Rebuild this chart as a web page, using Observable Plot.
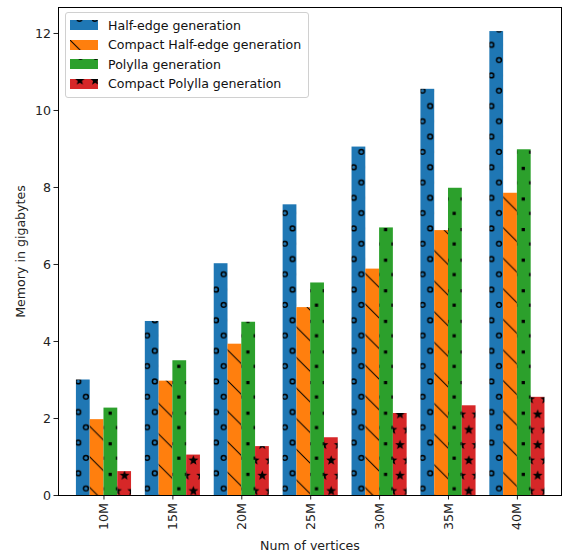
<!DOCTYPE html>
<html>
<head>
<meta charset="utf-8">
<script src="https://cdn.jsdelivr.net/npm/d3@7"></script>
<script src="https://cdn.jsdelivr.net/npm/@observablehq/plot@0.6"></script>
<style>
  body { margin: 0; background: #fff; font-family: "DejaVu Sans", sans-serif; }
  #wrap { position: relative; width: 565px; height: 555px; }
  #legend { position: absolute; left: 65px; top: 12px; width: 242px; height: 84px;
    border: 1px solid #d0d0d0; border-radius: 3px; background: rgba(255,255,255,0.85);
    font-size: 12.6px; color: #111; }
  .row { position: absolute; left: 4px; height: 14px; display: flex; align-items: center; }
  .row svg { margin-right: 10px; }
</style>
</head>
<body>
<svg width="0" height="0" style="position:absolute">
  <defs id="defs"></defs>
</svg>
<div id="wrap"><div id="chart"></div><div id="legend"></div></div>
<script>
const categories = ["10M", "15M", "20M", "25M", "30M", "35M", "40M"];
const seriesNames = ["Half-edge generation", "Compact Half-edge generation", "Polylla generation", "Compact Polylla generation"];
const halfEdge = [3.0, 4.52, 6.02, 7.55, 9.05, 10.55, 12.05];
const compactHalfEdge = [1.97, 2.97, 3.93, 4.88, 5.88, 6.88, 7.85];
const polylla = [2.27, 3.5, 4.5, 5.52, 6.95, 7.98, 8.98];
const compactPolylla = [0.62, 1.05, 1.27, 1.5, 2.13, 2.33, 2.55];
const yTicks = [0, 2, 4, 6, 8, 10, 12];

const colors = ["#1f77b4", "#ff7f0e", "#2ca02c", "#d62728"];
const allSeries = [halfEdge, compactHalfEdge, polylla, compactPolylla];

// ---- hatch patterns (styling) ----
const P = 15.3, P2 = 30.6;
function star(cx, cy, R, r) {
  let s = "";
  for (let i = 0; i < 10; i++) {
    const a = -Math.PI / 2 + i * Math.PI / 5;
    const rr = i % 2 ? r : R;
    s += (i ? "L" : "M") + (cx + rr * Math.cos(a)).toFixed(2) + "," + (cy + rr * Math.sin(a)).toFixed(2);
  }
  return s + "Z";
}
function copies(pts, w, h) {
  const out = [];
  for (const [x, y] of pts) for (const dx of [-w, 0, w]) for (const dy of [-h, 0, h]) out.push([x + dx, y + dy]);
  return out;
}
let defs = "";
// circles
defs += `<pattern id="p0" patternUnits="userSpaceOnUse" width="${P}" height="${P2}"><rect width="${P}" height="${P2}" fill="${colors[0]}"/>`;
for (const [x, y] of copies([[1.8, 14.2], [9.45, 29.5]], P, P2)) defs += `<circle cx="${x}" cy="${y}" r="2.4" fill="none" stroke="#000" stroke-width="1.5"/>`;
defs += `</pattern>`;
// backward diagonal
defs += `<pattern id="p1" patternUnits="userSpaceOnUse" width="${P2}" height="${P2}"><rect width="${P2}" height="${P2}" fill="${colors[1]}"/>`;
defs += `<path d="M-2,-2L${P2 + 2},${P2 + 2}M-2,${P2 - 2}L2,${P2 + 2}M${P2 - 2},-2L${P2 + 2},2" stroke="#000" stroke-width="1" fill="none"/>`;
defs += `</pattern>`;
// dots
defs += `<pattern id="p2" patternUnits="userSpaceOnUse" width="${P}" height="${P2}"><rect width="${P}" height="${P2}" fill="${colors[2]}"/>`;
for (const [x, y] of copies([[3.1, 15.4], [10.5, 29.8]], P, P2)) defs += `<rect x="${x - 1.6}" y="${y - 1.6}" width="3.2" height="3.2" fill="#000"/>`;
defs += `</pattern>`;
// stars
defs += `<pattern id="p3" patternUnits="userSpaceOnUse" width="${P}" height="${P2}"><rect width="${P}" height="${P2}" fill="${colors[3]}"/>`;
for (const [x, y] of copies([[2.2, 16.5], [9.85, 1.4]], P, P2)) defs += `<path d="${star(x, y, 5.2, 2.2)}" fill="#000"/>`;
defs += `</pattern>`;
document.getElementById("defs").innerHTML = defs;

// ---- data table ----
const rows = [];
allSeries.forEach((vals, k) => vals.forEach((v, i) => rows.push({i, k, v})));
const bw = 0.2;

const marks = allSeries.map((vals, k) =>
  Plot.rectY(rows.filter(d => d.k === k), {
    x1: d => d.i + (d.k - 2) * bw,
    x2: d => d.i + (d.k - 1) * bw,
    y1: 0,
    y2: "v",
    fill: `url(#p${k})`
  })
);

const chart = Plot.plot({
  width: 565,
  height: 555,
  marginLeft: 58,
  marginRight: 4,
  marginTop: 7,
  marginBottom: 60,
  style: {fontFamily: "DejaVu Sans, sans-serif", fontSize: "12.6px", color: "#222", background: "#fff"},
  x: {
    domain: [-0.66, 6.64],
    ticks: d3.range(categories.length),
    tickFormat: i => categories[i],
    tickRotate: -90,
    tickSize: 4.5,
    tickPadding: 3,
    label: null
  },
  y: {
    domain: [0, 12.675],
    ticks: yTicks,
    tickFormat: d => String(d),
    tickSize: 4.5,
    tickPadding: 3,
    label: null
  },
  marks: [
    ...marks,
    Plot.frame({stroke: "#000", strokeWidth: 1}),
    Plot.text(["Memory in gigabytes"], {frameAnchor: "left", dx: -38, rotate: -90, textAnchor: "middle", lineAnchor: "middle", fontSize: 12.6, fill: "#222"}),
    Plot.text(["Num of vertices"], {frameAnchor: "bottom", dy: 50, textAnchor: "middle", lineAnchor: "middle", fontSize: 12.6, fill: "#222"})
  ]
});
document.getElementById("chart").appendChild(chart);

// ---- legend ----
const legend = document.getElementById("legend");
const rowTops = [5, 24.5, 44, 63.5];
seriesNames.forEach((name, k) => {
  const r = document.createElement("div");
  r.className = "row";
  r.style.top = rowTops[k] + "px";
  r.innerHTML = `<svg width="28" height="10"><rect width="28" height="10" fill="url(#p${k})"/></svg><span>${name}</span>`;
  legend.appendChild(r);
});
</script>
</body>
</html>
